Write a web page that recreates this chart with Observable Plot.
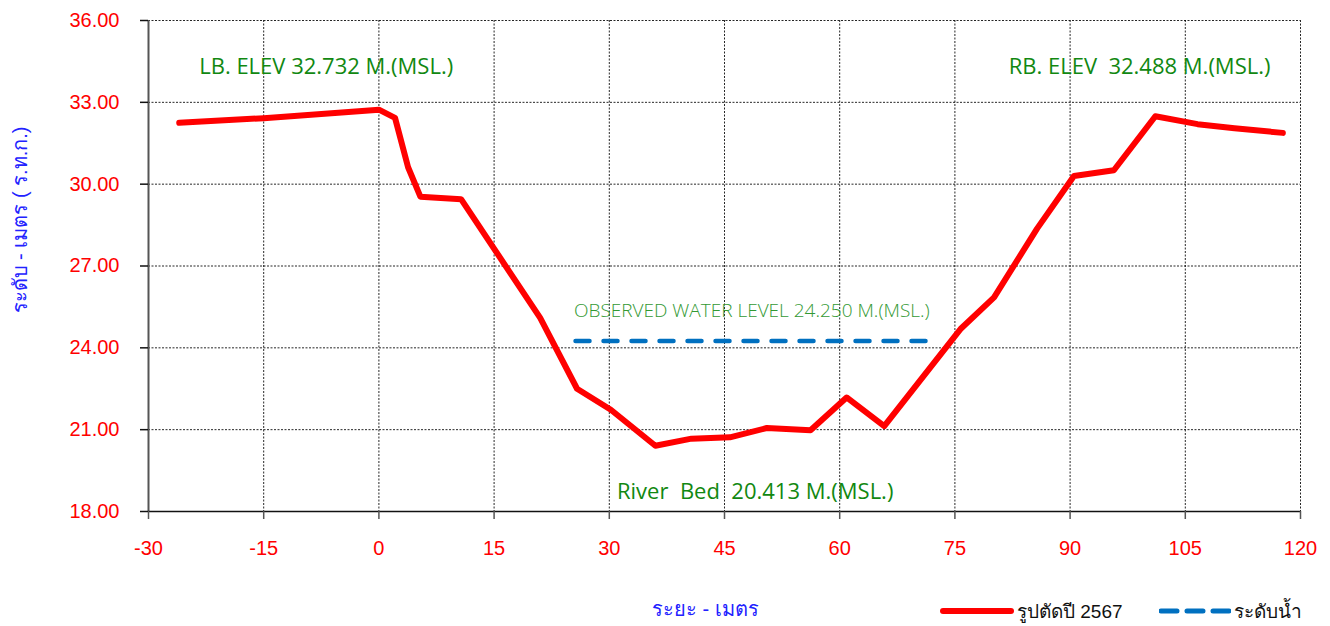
<!DOCTYPE html>
<html>
<head>
<meta charset="utf-8">
<script src="https://cdn.jsdelivr.net/npm/d3@7"></script>
<script src="https://cdn.jsdelivr.net/npm/@observablehq/plot@0.6"></script>
<style>
  html, body { margin: 0; padding: 0; background: #fff; }
  #wrap { position: relative; width: 1330px; }
  #below { position: relative; width: 1330px; height: 46px; font-family: "Liberation Sans", Arial, sans-serif; }
  .xlab { position: absolute; left: 652px; top: 13px; color: #2222ff; font-size: 20px; }
  .leg { position: absolute; top: 16px; font-size: 19px; color: #111; display: flex; align-items: center; }
</style>
</head>
<body>
<div id="wrap"></div>
<div id="below">
  <span class="xlab">ระยะ - เมตร</span>
  <div class="leg" style="left:940px;">
    <svg width="74" height="10"><line x1="3" y1="5" x2="71" y2="5" stroke="#ff0000" stroke-width="6" stroke-linecap="round"/></svg>
    <span style="margin-left:3px">รูปตัดปี 2567</span>
  </div>
  <div class="leg" style="left:1159px;">
    <svg width="72" height="10"><line x1="2" y1="5" x2="70" y2="5" stroke="#0070c0" stroke-width="5" stroke-dasharray="16,10" stroke-linecap="round"/></svg>
    <span style="margin-left:3px">ระดับน้ำ</span>
  </div>
</div>
<script>
// Cross-section data (distance in m, elevation in m MSL)
const distance  = [-26.0, -15.0, 0.0, 2.1, 3.8, 5.4, 10.7, 21.0, 25.8, 30.2, 36.0, 40.7, 45.7, 50.5, 56.2, 60.9, 65.8, 75.8, 80.1, 85.7, 90.5, 95.7, 101.1, 106.6, 111.4, 117.7];
const elevation = [32.25, 32.42, 32.73, 32.43, 30.62, 29.54, 29.45, 25.10, 22.50, 21.73, 20.41, 20.67, 20.72, 21.06, 20.98, 22.18, 21.13, 24.71, 25.85, 28.37, 30.30, 30.51, 32.49, 32.20, 32.05, 31.88];

// Observed water level
const waterDistance = [25.6, 71.2];
const waterLevel = 24.25;

// Tick labels
const xTicks = [-30, -15, 0, 15, 30, 45, 60, 75, 90, 105, 120];
const yTicks = [18, 21, 24, 27, 30, 33, 36];

// Annotations
const lbText = "LB. ELEV 32.732 M.(MSL.)";
const rbText = "RB. ELEV  32.488 M.(MSL.)";
const wlText = "OBSERVED WATER LEVEL 24.250 M.(MSL.)";
const bedText = "River  Bed  20.413 M.(MSL.)";
const yLabel = "ระดับ - เมตร ( ร.ท.ก.)";

const section = distance.map((d, i) => ({x: d, y: elevation[i]}));
const water = waterDistance.map(d => ({x: d, y: waterLevel}));

const chart = Plot.plot({
  width: 1330,
  height: 580,
  marginTop: 20,
  marginLeft: 148,
  marginRight: 30,
  marginBottom: 69,
  style: {fontFamily: "'Liberation Sans', Arial, sans-serif", background: "#fff"},
  x: {domain: [-30, 120], ticks: xTicks, label: null},
  y: {domain: [18, 36], ticks: yTicks, label: null},
  marks: [
    Plot.gridX(xTicks, {stroke: "#000", strokeOpacity: 0.85, strokeDasharray: "2,1.5", strokeWidth: 1}),
    Plot.gridY(yTicks, {stroke: "#000", strokeOpacity: 0.85, strokeDasharray: "2,1.5", strokeWidth: 1}),
    Plot.ruleX([-30], {stroke: "#555", strokeWidth: 2}),
    Plot.ruleY([18], {stroke: "#111", strokeWidth: 1.5}),
    Plot.axisX({ticks: xTicks, tickSize: 8, tickFormat: () => "", stroke: "#555", strokeWidth: 1.5, label: null}),
    Plot.axisY({ticks: yTicks, tickSize: 8, tickFormat: () => "", stroke: "#111", strokeWidth: 1.5, label: null}),
    Plot.axisX({ticks: xTicks, tickSize: 0, tickPadding: 29, fill: "#ff0000", fontSize: 20, tickFormat: d => String(d), label: null}),
    Plot.axisY({ticks: yTicks, tickSize: 0, tickPadding: 29, fill: "#ff0000", fontSize: 20, tickFormat: d => d.toFixed(2), label: null}),
    Plot.line(water, {x: "x", y: "y", stroke: "#0070c0", strokeWidth: 4.5, strokeDasharray: "14,14"}),
    Plot.line(section, {x: "x", y: "y", stroke: "#ff0000", strokeWidth: 6, strokeLinejoin: "round", strokeLinecap: "round"}),
    Plot.text([lbText], {x: -23.4, y: 34.3, text: d => d, textAnchor: "start", fill: "#118811", fontSize: 22, fontFamily: "'Open Sans', sans-serif"}),
    Plot.text([rbText], {x: 82.0, y: 34.3, text: d => d, textAnchor: "start", fill: "#118811", fontSize: 22, fontFamily: "'Open Sans', sans-serif"}),
    Plot.text([wlText], {x: 25.4, y: 25.37, text: d => d, textAnchor: "start", fill: "#339933", fontSize: 19, fontWeight: 300, fontFamily: "'Open Sans', sans-serif"}),
    Plot.text([bedText], {x: 31.0, y: 18.73, text: d => d, textAnchor: "start", fill: "#118811", fontSize: 22, fontFamily: "'Open Sans', sans-serif"}),
    Plot.text([yLabel], {frameAnchor: "left", text: d => d, rotate: -90, textAnchor: "middle", dx: -128, dy: -46, fill: "#2222ff", fontSize: 20})
  ]
});
document.getElementById("wrap").appendChild(chart);
</script>
</body>
</html>
